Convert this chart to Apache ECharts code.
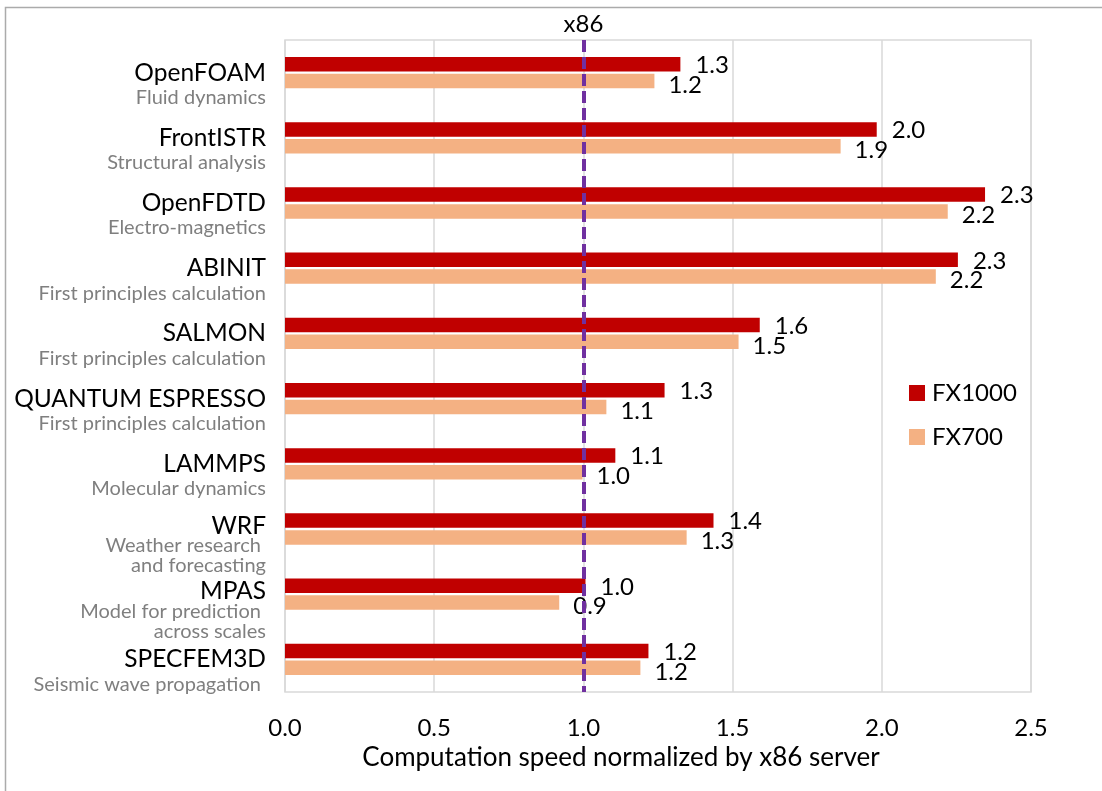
<!DOCTYPE html>
<html>
<head>
<meta charset="utf-8">
<script src="https://cdn.jsdelivr.net/npm/echarts@6/dist/echarts.min.js"></script>
<style>
html,body{margin:0;padding:0;background:#fff;}
#chart{width:1102px;height:791px;}
</style>
</head>
<body>
<div id="chart"></div>
<script>
const categories = ['OpenFOAM','FrontISTR','OpenFDTD','ABINIT','SALMON','QUANTUM ESPRESSO','LAMMPS','WRF','MPAS','SPECFEM3D'];
const subtitles = ['Fluid dynamics','Structural analysis','Electro-magnetics','First principles calculation','First principles calculation','First principles calculation','Molecular dynamics','Weather research \nand forecasting','Model for prediction \nacross scales','Seismic wave propagation '];
const fx1000 = [1.325, 1.983, 2.346, 2.255, 1.591, 1.272, 1.107, 1.436, 1.007, 1.218];
const fx700 = [1.238, 1.862, 2.221, 2.181, 1.520, 1.077, 0.997, 1.346, 0.919, 1.191];
const xTicks = [0.0, 0.5, 1.0, 1.5, 2.0, 2.5];
const referenceValue = 1.0;
const referenceLabel = 'x86';
const seriesNames = ['FX1000', 'FX700'];
const axisTitle = 'Computation speed normalized by x86 server';

const FONT = 'Lato';
const chart = echarts.init(document.getElementById('chart'));

const option = {
  backgroundColor: '#fff',
  textStyle: { fontFamily: FONT },
  graphic: [{
    type: 'rect',
    shape: { x: 5.5, y: 7.5, width: 2000, height: 2000 },
    style: { fill: 'none', stroke: '#ababab', lineWidth: 1.5 },
    silent: true, z: -10
  }],
  grid: {
    left: 285, right: 71, top: 40, bottom: 99,
    containLabel: false,
    outerBoundsMode: 'none',
    show: true, borderColor: '#d9d9d9', borderWidth: 1.5
  },
  legend: {
    orient: 'vertical',
    left: 904, top: 376,
    itemWidth: 16, itemHeight: 16, itemGap: 20,
    icon: 'rect',
    textStyle: { fontFamily: FONT, fontSize: 24, color: '#000', padding: [0, 0, 0, 2] },
    data: seriesNames
  },
  xAxis: {
    type: 'value',
    min: xTicks[0], max: xTicks[xTicks.length - 1], interval: 0.5,
    axisLine: { show: false },
    axisTick: { show: false },
    splitLine: { show: true, lineStyle: { color: '#d9d9d9', width: 1.5 } },
    axisLabel: {
      margin: 24, fontSize: 24, color: '#000', fontFamily: FONT,
      formatter: v => v.toFixed(1)
    },
    name: axisTitle,
    nameLocation: 'middle',
    nameGap: 53,
    nameTextStyle: { fontSize: 26, color: '#000', fontFamily: FONT, padding: [0, 74, 0, 0] }
  },
  yAxis: {
    type: 'category',
    inverse: true,
    data: categories,
    axisLine: { show: false },
    axisTick: { show: false },
    axisLabel: {
      margin: 19,
      interval: 0,
      hideOverlap: false,
      align: 'right',
      formatter: (v, i) => {
        const parts = subtitles[i].split('\n');
        const two = parts.length > 1;
        const subs = parts.map(s => '{' + (two ? 'sub2' : 'sub') + '|' + s + '}').join('\n');
        return '{' + (two ? 'pad2' : 'pad') + '| }\n{' + (two ? 'name2' : 'name') + '|' + v + '}\n' + subs;
      },
      rich: {
        pad: { fontSize: 10, lineHeight: 24 },
        pad2: { fontSize: 10, lineHeight: 34 },
        name: { fontSize: 24.5, lineHeight: 26, color: '#000', fontFamily: FONT, align: 'right' },
        name2: { fontSize: 24.5, lineHeight: 20, color: '#000', fontFamily: FONT, align: 'right' },
        sub: { fontSize: 20, lineHeight: 24, color: '#7f7f7f', fontFamily: FONT, align: 'right' },
        sub2: { fontSize: 20, lineHeight: 20, color: '#7f7f7f', fontFamily: FONT, align: 'right' }
      }
    }
  },
  series: [
    {
      name: seriesNames[0],
      type: 'bar',
      data: fx1000,
      barWidth: 14.5,
      barGap: '16%',
      itemStyle: { color: '#c00000' },
      label: {
        show: true, position: 'right', distance: 15, offset: [0, 1],
        fontSize: 24, color: '#000', fontFamily: FONT,
        formatter: p => p.value.toFixed(1)
      },
      markLine: {
        silent: true,
        symbol: 'none',
        lineStyle: { color: '#7030a0', width: 4, type: [12, 5] },
        label: {
          show: true, position: 'start', formatter: referenceLabel,
          fontSize: 24, color: '#000', fontFamily: FONT, distance: 4
        },
        data: [{ xAxis: referenceValue }],
        z: 10
      }
    },
    {
      name: seriesNames[1],
      type: 'bar',
      data: fx700,
      barWidth: 14.5,
      itemStyle: { color: '#f4b183' },
      label: {
        show: true, position: 'right', distance: 14, offset: [0, 4],
        fontSize: 24, color: '#000', fontFamily: FONT,
        formatter: p => p.value.toFixed(1)
      }
    }
  ]
};
chart.setOption(option);
</script>
</body>
</html>
